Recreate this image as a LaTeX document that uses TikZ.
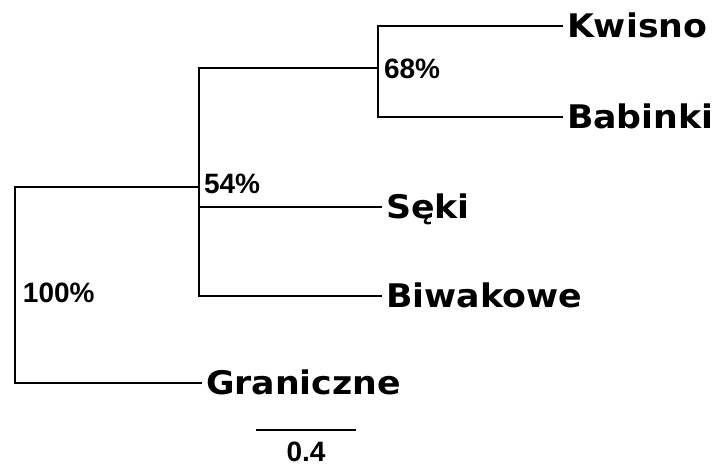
\documentclass[tikz,border=0pt]{standalone}
\usepackage{fontspec}
\setmainfont{DejaVu Sans}
\newfontfamily\taxfont[FakeStretch=1.07]{DejaVu Sans}
\newfontfamily\bootfont{Liberation Sans}

\begin{document}
\begin{tikzpicture}[x=1pt,y=-1pt,line width=2pt,
  taxon/.style={anchor=west,inner xsep=3pt,inner ysep=0pt,text height=23.5pt,text depth=0pt,font=\taxfont\fontsize{32.5}{36}\selectfont\bfseries},
  boot/.style={anchor=west,inner xsep=3pt,inner ysep=0pt,text height=20pt,text depth=0pt,font=\bootfont\fontsize{28}{30}\selectfont\bfseries}]
\useasboundingbox (0,0) rectangle (720,467);
\node [taxon] (kwi) at (563,26) {Kwisno};
\node [taxon] (bab) at (563,117) {Babinki};
\node [taxon] (sek) at (382,207) {Sęki};
\node [taxon] (biw) at (382,296) {Biwakowe};
\node [taxon] (gra) at (202,383) {Graniczne};
\coordinate (c68) at (378,68);
\coordinate (c54) at (199,187);
\coordinate (c100) at (15,285);
\draw (kwi.west) -| (c68) |- (bab.west);
\draw (c68) -| (c54) |- (biw.west);
\draw (sek.west) -- (sek.west -| c54);
\draw (c54) -| (c100) |- (gra.west);
\node [boot,xshift=2pt] (n68) at (c68) {68\%};
\node [boot,xshift=1pt,yshift=3.5pt] (n54) at (c54) {54\%};
\node [boot,xshift=4pt,yshift=-7.5pt] (n100) at (c100) {100\%};
\coordinate (sbl) at (256,430);
\coordinate (sbr) at (356,430);
\draw (sbl) -- (sbr) node [midway,below=10pt,inner sep=0pt,text height=20pt,text depth=0pt,font=\bootfont\fontsize{28}{30}\selectfont\bfseries] (sbt) {0.4};
\end{tikzpicture}
\end{document}
